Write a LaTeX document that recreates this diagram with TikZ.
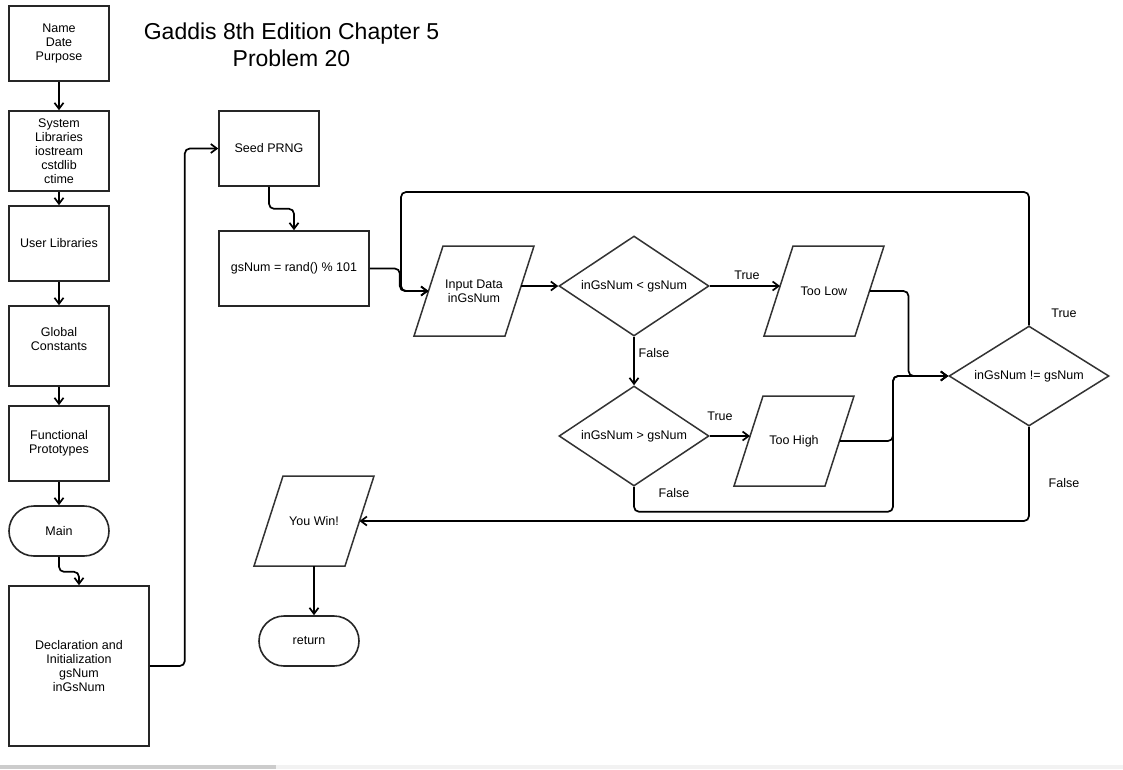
\documentclass[tikz,border=0pt]{standalone}
\usepackage{fontspec}
\setmainfont{Liberation Sans}
\usetikzlibrary{shapes.geometric,arrows.meta,calc}

% input/output parallelogram: text node plus slanted outline (120 x 90, slant 29)
\newcommand\ioblock[4]{%
  \node[iotext] (#1) at (#2,#3) {#4};
  \draw[ioshape] ($(#1)+(-31,-45)$) -- ($(#1)+(60,-45)$) -- ($(#1)+(31,45)$) -- ($(#1)+(-60,45)$) -- cycle;}

\begin{document}
\begin{tikzpicture}[x=1pt,y=-1pt,
  font=\fontsize{12.5}{14}\selectfont,
  box/.style={draw=black!85,line width=1.6pt,minimum width=100pt,minimum height=75pt,inner sep=0pt,align=center},
  term/.style={box,minimum height=50pt,rounded corners=25pt},
  decision/.style={draw=black!80,line width=1.5pt,diamond,aspect=1.5,minimum width=150pt,minimum height=100pt,inner sep=0pt,align=center},
  iotext/.style={inner sep=0pt,align=center},
  ioshape/.style={draw=black!80,line width=1.5pt,line join=miter},
  flow/.style={line width=1.7pt,rounded corners=5pt,-{Straight Barb[length=6pt,width=9pt]}},
  lbl/.style={inner sep=0pt}
]
\useasboundingbox (0,0) rectangle (1123,769);
\fill[white] (0,0) rectangle (1123,769);
\fill[black!5] (0,765) rectangle (1123,769);
\fill[black!20] (0,765) rectangle (276,769);

% title
\node[align=center,font=\fontsize{23}{27}\selectfont] (title) at (291.5,45) {Gaddis 8th Edition Chapter 5\\Problem 20};

% left column
\node[box] (name) at (59,43.5) {Name\\Date\\Purpose};
\node[box,minimum height=80pt] (sys) at (59,151) {System\\Libraries\\iostream\\cstdlib\\ctime};
\node[box] (usr) at (59,243.5) {User Libraries};
\node[box,minimum height=80pt] (glob) at (59,346) {Global\\Constants\\\mbox{}};
\node[box] (func) at (59,443.5) {Functional\\Prototypes};
\node[term] (main) at (59,531) {Main};
\node[box,minimum width=140pt,minimum height=160pt] (decl) at (79,666) {Declaration and\\Initialization\\gsNum\\inGsNum};

% setup
\node[box] (seed) at (269,148.5) {Seed PRNG};
\node[box,minimum width=150pt] (gs) at (294,268.5) {gsNum = rand() \% 101};

% guessing loop
\ioblock{in}{474}{291}{Input Data\\inGsNum}
\node[decision] (d1) at (634,286) {inGsNum < gsNum};
\ioblock{low}{824}{291}{Too Low}
\node[decision] (d2) at (634,436) {inGsNum > gsNum};
\ioblock{high}{794}{441}{Too High}
\node[decision,minimum width=160pt] (d3) at (1029,376) {inGsNum != gsNum};

% end
\ioblock{win}{314}{521}{You Win!}
\node[term] (ret) at (309,641) {return};

% connection points on the slanted outlines
\coordinate (inL) at ($(in)+(-45.5,0)$);
\coordinate (inR) at ($(in)+(47,-5)$);
\coordinate (lowL) at ($(low)+(-44,-5)$);
\coordinate (lowR) at ($(low)+(45.5,0)$);
\coordinate (highL) at ($(high)+(-44,-5)$);
\coordinate (highR) at ($(high)+(45.5,0)$);
\coordinate (jn) at ($(highR)+(53.5,0)$);
\coordinate (winR) at ($(win)+(45.5,0)$);
\coordinate (winB) at ($(win)+(0,45)$);
\coordinate (loopTop) at (401,192);

% connectors
\draw[flow] (name) -- (sys);
\draw[flow] (sys) -- (usr);
\draw[flow] (usr) -- (glob);
\draw[flow] (glob) -- (func);
\draw[flow] (func) -- (main);
\draw[flow] (main.south) -- ++(0,15) -| (decl.north);
\draw[flow] (decl.east) -- ++(35,0) |- (seed.west);
\draw[flow] (seed.south) -- ++(0,22) -| (gs.north);
\draw[flow] (gs.east) -- ++(30,0) |- (inL);
\draw[flow] (d3.north) |- (loopTop) |- (inL);
\draw[flow] (inR) -- (d1.west);
\draw[flow] (d1.east) -- (lowL);
\draw[flow] (lowR) -- ++(39,0) |- (d3.west);
\draw[flow] (d1.south) -- (d2.north);
\draw[flow] (d2.east) -- (highL);
\draw[flow] (highR) -- (jn) |- (d3.west);
\draw[flow] (d2.south) -- ++(0,25) -| (jn) |- (d3.west);
\draw[flow] (d3.south) |- (winR);
\draw[flow] (winB) -- (winB |- ret.north);

% branch labels
\node[lbl] (t1) at (747,275) {True};
\node[lbl] (f1) at (654,353) {False};
\node[lbl] (t2) at (720,416) {True};
\node[lbl] (f2) at (674,493) {False};
\node[lbl] (t3) at (1064,313) {True};
\node[lbl] (f3) at (1064,483) {False};
\end{tikzpicture}
\end{document}
